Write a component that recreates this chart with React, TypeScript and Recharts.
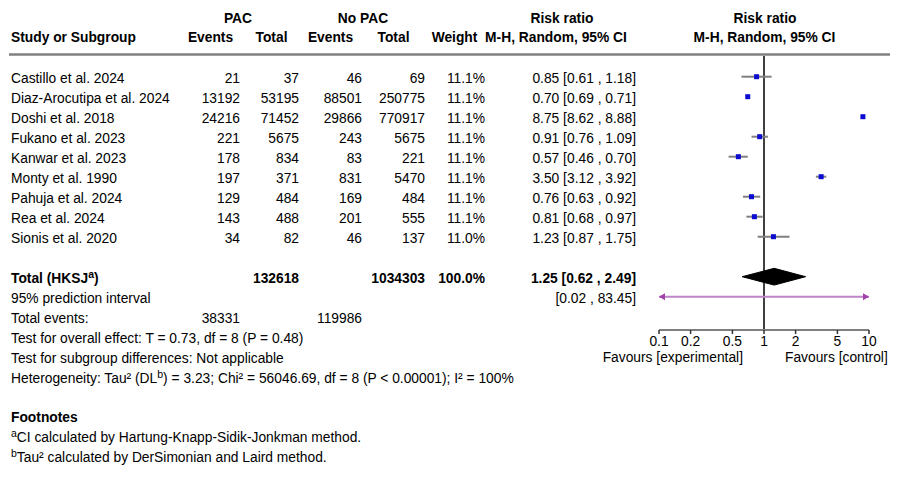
import { ComposedChart, Scatter, ErrorBar, Area, XAxis, YAxis, ReferenceLine } from "recharts";

const STUDIES = [
  "Castillo et al. 2024",
  "Diaz-Arocutipa et al. 2024",
  "Doshi et al. 2018",
  "Fukano et al. 2023",
  "Kanwar et al. 2023",
  "Monty et al. 1990",
  "Pahuja et al. 2024",
  "Rea et al. 2024",
  "Sionis et al. 2020",
];
const PAC_EVENTS = [21, 13192, 24216, 221, 178, 197, 129, 143, 34];
const PAC_TOTAL = [37, 53195, 71452, 5675, 834, 371, 484, 488, 82];
const CTRL_EVENTS = [46, 88501, 29866, 243, 83, 831, 169, 201, 46];
const CTRL_TOTAL = [69, 250775, 770917, 5675, 221, 5470, 484, 555, 137];
const WEIGHTS = [11.1, 11.1, 11.1, 11.1, 11.1, 11.1, 11.1, 11.1, 11.0];
const RR = [0.85, 0.7, 8.75, 0.91, 0.57, 3.5, 0.76, 0.81, 1.23];
const RR_LO = [0.61, 0.69, 8.62, 0.76, 0.46, 3.12, 0.63, 0.68, 0.87];
const RR_HI = [1.18, 0.71, 8.88, 1.09, 0.7, 3.92, 0.92, 0.97, 1.75];

const TOTAL_PAC = 132618;
const TOTAL_CTRL = 1034303;
const TOTAL_WEIGHT = 100.0;
const TOTAL_RR = [1.25, 0.62, 2.49]; // estimate, low, high
const PRED_INTERVAL = [0.02, 83.45];
const TOTAL_EVENTS = [38331, 119986];

const X_TICKS = [0.1, 0.2, 0.5, 1, 2, 5, 10];
const X_DOMAIN = [0.1, 10];

const FONT = "'Liberation Sans', Arial, sans-serif";
const FS = 13.8;
const ROW0 = 76.7;
const ROW_H = 20;
const TOTAL_ROW = STUDIES.length + 1;
const DIAMOND_HALF = 0.42;

// text column right edges
const COL = { pacEv: 240, pacTot: 299, ctrlEv: 362, ctrlTot: 425, weight: 485, rr: 636 };

const fmtRR = (m: number, lo: number, hi: number) =>
  `${m.toFixed(2)} [${lo.toFixed(2)} , ${hi.toFixed(2)}]`;

const studyPoints = STUDIES.map((s, i) => ({
  x: RR[i],
  y: i,
  err: [RR[i] - RR_LO[i], RR_HI[i] - RR[i]],
}));

const diamond = [
  { x: TOTAL_RR[1], band: [TOTAL_ROW, TOTAL_ROW] },
  { x: TOTAL_RR[0], band: [TOTAL_ROW - DIAMOND_HALF, TOTAL_ROW + DIAMOND_HALF] },
  { x: TOTAL_RR[2], band: [TOTAL_ROW, TOTAL_ROW] },
];

const predRow = TOTAL_ROW + 1;
const predLo = Math.max(PRED_INTERVAL[0], X_DOMAIN[0]);
const predHi = Math.min(PRED_INTERVAL[1], X_DOMAIN[1]);

const rowY = (i: number) => ROW0 + ROW_H * i;

function Square(props: any) {
  const { cx, cy } = props;
  if (cx == null || cy == null) return null;
  return <rect x={cx - 2.5} y={cy - 2.5} width={5} height={5} fill="#0c0cd0" />;
}

function PredLine(props: any) {
  const { x1, y1, x2, y2 } = props;
  const c = "#c084c8";
  const a = "#a040a8";
  return (
    <g>
      <line x1={x1} y1={y1} x2={x2} y2={y2} stroke={c} strokeWidth={2} />
      {PRED_INTERVAL[0] < X_DOMAIN[0] && (
        <polygon points={`${x1},${y1} ${x1 + 6},${y1 - 3.5} ${x1 + 6},${y1 + 3.5}`} fill={a} />
      )}
      {PRED_INTERVAL[1] > X_DOMAIN[1] && (
        <polygon points={`${x2},${y2} ${x2 - 6},${y2 - 3.5} ${x2 - 6},${y2 + 3.5}`} fill={a} />
      )}
    </g>
  );
}

function T({ x, y, children, anchor = "start", bold = false }: any) {
  return (
    <text x={x} y={y} textAnchor={anchor} fontWeight={bold ? "bold" : "normal"} fontSize={FS} fill="#000">
      {children}
    </text>
  );
}

// superscript letter followed by the rest of the text back on the baseline
function Sup({ s, rest }: { s: string; rest: string }) {
  return (
    <>
      <tspan fontSize={10.5} dy={-5}>{s}</tspan>
      <tspan dy={5}>{rest}</tspan>
    </>
  );
}

function TextLayer() {
  const b = 6.5;
  const totY = rowY(TOTAL_ROW) + b;
  return (
    <svg width={899} height={480} style={{ position: "absolute", left: 0, top: 0, fontFamily: FONT }}>
      {/* header */}
      <T x={238} y={22.5} anchor="middle" bold>PAC</T>
      <T x={363} y={22.5} anchor="middle" bold>No PAC</T>
      <T x={562} y={22.5} anchor="middle" bold>Risk ratio</T>
      <T x={765} y={22.5} anchor="middle" bold>Risk ratio</T>
      <T x={11} y={42} bold>Study or Subgroup</T>
      <T x={210.5} y={42} anchor="middle" bold>Events</T>
      <T x={271.5} y={42} anchor="middle" bold>Total</T>
      <T x={330.5} y={42} anchor="middle" bold>Events</T>
      <T x={393.5} y={42} anchor="middle" bold>Total</T>
      <T x={454.5} y={42} anchor="middle" bold>Weight</T>
      <T x={556} y={42} anchor="middle" bold>M-H, Random, 95% CI</T>
      <T x={764.5} y={42} anchor="middle" bold>M-H, Random, 95% CI</T>
      <line x1={9} x2={890} y1={54.5} y2={54.5} stroke="#808080" strokeWidth={2.5} />

      {/* studies */}
      {STUDIES.map((s, i) => {
        const y = rowY(i) + b;
        return (
          <g key={s}>
            <T x={11} y={y}>{s}</T>
            <T x={COL.pacEv} y={y} anchor="end">{PAC_EVENTS[i]}</T>
            <T x={COL.pacTot} y={y} anchor="end">{PAC_TOTAL[i]}</T>
            <T x={COL.ctrlEv} y={y} anchor="end">{CTRL_EVENTS[i]}</T>
            <T x={COL.ctrlTot} y={y} anchor="end">{CTRL_TOTAL[i]}</T>
            <T x={COL.weight} y={y} anchor="end">{WEIGHTS[i].toFixed(1)}%</T>
            <T x={COL.rr} y={y} anchor="end">{fmtRR(RR[i], RR_LO[i], RR_HI[i])}</T>
          </g>
        );
      })}

      {/* totals */}
      <T x={11} y={totY} bold>Total (HKSJ<Sup s="a" rest=")" /></T>
      <T x={COL.pacTot} y={totY} anchor="end" bold>{TOTAL_PAC}</T>
      <T x={COL.ctrlTot} y={totY} anchor="end" bold>{TOTAL_CTRL}</T>
      <T x={COL.weight} y={totY} anchor="end" bold>{TOTAL_WEIGHT.toFixed(1)}%</T>
      <T x={COL.rr} y={totY} anchor="end" bold>{fmtRR(TOTAL_RR[0], TOTAL_RR[1], TOTAL_RR[2])}</T>

      <T x={11} y={rowY(predRow) + b}>95% prediction interval</T>
      <T x={COL.rr} y={rowY(predRow) + b} anchor="end">
        {`[${PRED_INTERVAL[0].toFixed(2)} , ${PRED_INTERVAL[1].toFixed(2)}]`}
      </T>

      <T x={11} y={rowY(predRow + 1) + b}>Total events:</T>
      <T x={COL.pacEv} y={rowY(predRow + 1) + b} anchor="end">{TOTAL_EVENTS[0]}</T>
      <T x={COL.ctrlEv} y={rowY(predRow + 1) + b} anchor="end">{TOTAL_EVENTS[1]}</T>
      <T x={11} y={rowY(predRow + 2) + b}>Test for overall effect: T = 0.73, df = 8 (P = 0.48)</T>
      <T x={11} y={rowY(predRow + 3) + b}>Test for subgroup differences: Not applicable</T>
      <T x={11} y={rowY(predRow + 4) + b}>
        Heterogeneity: Tau² (DL
        <Sup s="b" rest=") = 3.23; Chi² = 56046.69, df = 8 (P < 0.00001); I² = 100%" />
      </T>

      {/* favours labels */}
      <T x={743} y={361.5} anchor="end">Favours [experimental]</T>
      <T x={785} y={361.5}>Favours [control]</T>

      {/* footnotes */}
      <T x={11} y={421.5} bold>Footnotes</T>
      <T x={11} y={442}><Sup s="a" rest="CI calculated by Hartung-Knapp-Sidik-Jonkman method." /></T>
      <T x={11} y={462}><Sup s="b" rest="Tau² calculated by DerSimonian and Laird method." /></T>
    </svg>
  );
}

export default function App() {
  return (
    <div style={{ position: "absolute", left: 0, top: 0, width: 899, height: 480, background: "#fff", fontFamily: FONT }}>
      <div style={{ position: "absolute", left: 0, top: 0 }}>
        <ComposedChart width={899} height={480} margin={{ top: 56, right: 30, bottom: 120, left: 659 }}>
          <XAxis
            type="number"
            dataKey="x"
            scale="log"
            domain={X_DOMAIN}
            ticks={X_TICKS}
            interval={0}
            allowDataOverflow
            height={30}
            tickSize={4}
            tickMargin={2}
            tick={{ fontSize: FS, fill: "#000" }}
            axisLine={{ stroke: "#7f7f7f", strokeWidth: 2 }}
            tickLine={{ stroke: "#333", strokeWidth: 1.5 }}
          />
          <YAxis type="number" dataKey="y" hide width={0} reversed domain={[-1.035, 12.665]} allowDataOverflow />
          <ReferenceLine x={1} stroke="#000" strokeWidth={1.5} />
          <Area
            data={diamond}
            dataKey="band"
            type="linear"
            fill="#000"
            fillOpacity={1}
            stroke="#000"
            strokeWidth={1}
            isAnimationActive={false}
            dot={false}
            activeDot={false}
          />
          <ReferenceLine
            segment={[{ x: predLo, y: predRow }, { x: predHi, y: predRow }]}
            shape={PredLine}
          />
          <Scatter data={studyPoints} shape={Square} isAnimationActive={false}>
            <ErrorBar dataKey="err" direction="x" width={0} stroke="#808080" strokeWidth={2} />
          </Scatter>
        </ComposedChart>
      </div>
      <TextLayer />
    </div>
  );
}
